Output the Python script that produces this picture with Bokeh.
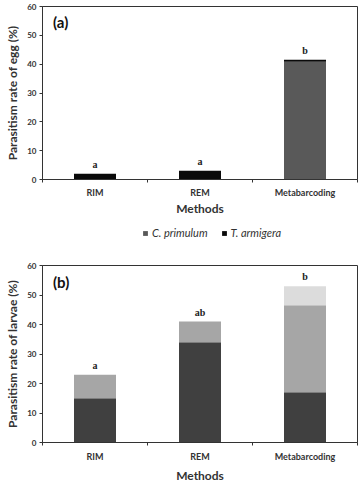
from bokeh.plotting import figure
from bokeh.layouts import column
from bokeh.models import (Range1d, FixedTicker, Legend, LegendItem, Label,
                          LabelSet, ColumnDataSource)
from bokeh.embed import file_html
from bokeh.resources import INLINE

# ---- data -------------------------------------------------------------
methods = ["RIM", "REM", "Metabarcoding"]
y_ticks = [0, 10, 20, 30, 40, 50, 60]

# egg parasitism (%), stacked by parasitoid
egg_c_primulum = [0.0, 0.0, 40.8]
egg_t_armigera = [2.0, 3.0, 0.7]
egg_letters = ["a", "a", "b"]

# larval parasitism (%), stacked by parasitoid group
larvae_s1 = [15.0, 34.0, 17.0]
larvae_s2 = [8.0, 7.0, 29.5]
larvae_s3 = [0.0, 0.0, 6.5]
larvae_letters = ["a", "ab", "b"]

FONT = "Lato"
AXIS_COLOR = "#333333"
EGG_COLORS = ["#595959", "#0a0a0a"]
LARVAE_COLORS = ["#404040", "#a6a6a6", "#dcdcdc"]
centers = [i + 0.5 for i in range(len(methods))]


def base_panel(ylabel, frame_h, top, bottom, tick_gap, title_gap):
    p = figure(frame_width=315, frame_height=frame_h,
               x_range=Range1d(0, len(methods)), y_range=Range1d(0, 60),
               output_backend="svg", toolbar_location=None,
               min_border_left=42, min_border_right=6,
               min_border_top=top, min_border_bottom=bottom)
    p.grid.visible = False
    p.outline_line_color = AXIS_COLOR
    p.outline_line_width = 1
    p.background_fill_color = "white"
    p.border_fill_color = "white"

    overrides = {}
    for c, m in zip(centers, methods):
        overrides[c] = m
        overrides[str(c)] = m
    xa = p.xaxis[0]
    xa.ticker = FixedTicker(ticks=centers,
                            minor_ticks=list(range(len(methods) + 1)))
    xa.major_label_overrides = overrides
    xa.major_tick_out = 0
    xa.major_tick_in = 0
    xa.minor_tick_out = 3
    xa.minor_tick_in = 0
    xa.axis_label = "Methods"

    ya = p.yaxis[0]
    ya.ticker = FixedTicker(ticks=y_ticks)
    ya.major_tick_out = 3
    ya.major_tick_in = 0
    ya.axis_label = ylabel

    for ax in (xa, ya):
        ax.axis_line_color = AXIS_COLOR
        ax.major_tick_line_color = AXIS_COLOR
        ax.major_label_text_font = FONT
        ax.major_label_text_font_style = "bold"
        ax.major_label_text_font_size = "8px"
        ax.major_label_text_color = "#333333"
        ax.axis_label_text_font = FONT
        ax.axis_label_text_font_style = "bold"
        ax.axis_label_text_color = "#333333"
    xa.minor_tick_line_color = AXIS_COLOR
    ya.minor_tick_line_color = None
    xa.major_label_text_font_size = "9px"
    xa.axis_label_text_font_size = "12px"
    ya.axis_label_text_font_size = "12px"
    xa.major_label_standoff = tick_gap
    xa.axis_label_standoff = title_gap
    ya.major_label_standoff = 3
    ya.axis_label_standoff = 4
    return p


def add_letters(p, totals, letters):
    src = ColumnDataSource(dict(x=centers, y=totals, t=letters))
    p.add_layout(LabelSet(x="x", y="y", text="t", source=src, y_offset=4,
                          text_align="center", text_baseline="bottom",
                          text_font=FONT, text_font_style="bold",
                          text_font_size="10px", text_color="#222222"))


def add_tag(p, tag):
    p.add_layout(Label(x=0.1, y=54.5, text=tag, text_align="left",
                       text_baseline="middle", text_font=FONT,
                       text_font_style="bold", text_font_size="15px",
                       text_color="#111111"))


# ---- panel (a): eggs ---------------------------------------------------
pa = base_panel("Parasitism rate of egg (%)", 173, 6, 40, 4, 0)
src_a = ColumnDataSource(dict(x=centers, cp=egg_c_primulum,
                              ta=egg_t_armigera))
pa.vbar_stack(["cp", "ta"], x="x", width=0.4, source=src_a,
              color=EGG_COLORS, line_color=None)
egg_tot = [a + b for a, b in zip(egg_c_primulum, egg_t_armigera)]
add_letters(pa, egg_tot, egg_letters)
add_tag(pa, "(a)")

# ---- species key strip (between the two panels) ------------------------
key = figure(width=363, height=22, x_range=Range1d(0, 3),
             y_range=Range1d(100, 101), output_backend="svg",
             toolbar_location=None, x_axis_location=None,
             y_axis_location=None, min_border=0)
key.outline_line_color = None
key.grid.visible = False
rs_key = key.vbar_stack(["cp", "ta"], x="x", width=0.4, source=src_a,
                        color=EGG_COLORS, line_color=None)
legend = Legend(items=[LegendItem(label="C. primulum", renderers=[rs_key[0]]),
                       LegendItem(label="T. armigera", renderers=[rs_key[1]])],
                orientation="horizontal", location=(100, 2),
                border_line_color=None, background_fill_alpha=0,
                label_text_font=FONT, label_text_font_style="italic",
                label_text_font_size="11px", label_text_color="#333333",
                label_height=11, glyph_width=6, glyph_height=6, spacing=13,
                label_standoff=4, padding=2, margin=0)
key.add_layout(legend)

# ---- panel (b): larvae -------------------------------------------------
pb = base_panel("Parasitism rate of larvae (%)", 177, 24, 39, 5, 3)
src_b = ColumnDataSource(dict(x=centers, s1=larvae_s1, s2=larvae_s2,
                              s3=larvae_s3))
pb.vbar_stack(["s1", "s2", "s3"], x="x", width=0.4, source=src_b,
              color=LARVAE_COLORS, line_color=None)
lar_tot = [a + b + c for a, b, c in zip(larvae_s1, larvae_s2, larvae_s3)]
add_letters(pb, lar_tot, larvae_letters)
add_tag(pb, "(b)")

page = column(pa, key, pb, spacing=0)
open("out.html", "w").write(file_html(page, INLINE))
